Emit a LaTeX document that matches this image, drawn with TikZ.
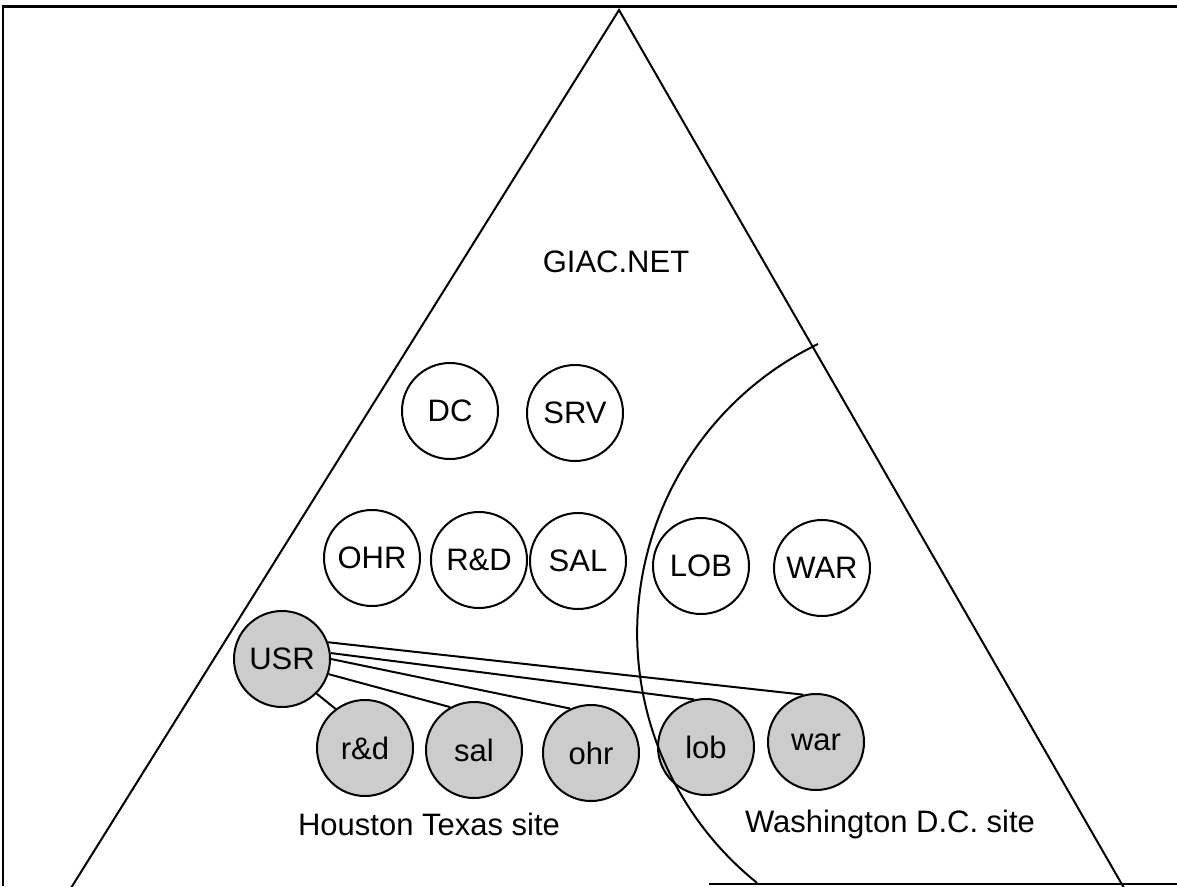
\documentclass[tikz,border=0pt]{standalone}
\usepackage{fontspec}
\setmainfont{Liberation Sans}
\definecolor{nodegrey}{RGB}{204,204,204}
\begin{document}
\begin{tikzpicture}[x=1pt,y=-1pt,
  every node/.style={font=\fontsize{31}{33}\selectfont},
  hub/.style={circle,draw,line width=2pt,minimum size=96pt,inner sep=0pt,fill=white},
  greyhub/.style={hub,fill=nodegrey},
  edge/.style={line width=2pt},
  frame/.style={line width=1.8pt}]
\useasboundingbox (0,0) rectangle (1177,886);
% frame
\draw[line width=3pt] (2,6) -- (1177,6);
\draw[frame] (3,6) -- (3,886);
\draw[frame] (709,884) -- (1177,884);
% triangle
\coordinate (apex) at (619,10);
\coordinate (bl) at (71,888);
\coordinate (br) at (1124,888);
\draw[edge] (bl) -- (apex) -- (br);
% labels
\node (giac) at (616,262) {GIAC.NET};
\node (houston) at (429,824) {Houston Texas site};
\node (wash) at (890,824) {Washington D.C. site};
% white nodes
\node[hub] (dc) at (450,411) {DC};
\node[hub] (srv) at (575,413) {SRV};
\node[hub] (OHR) at (372,558) {OHR};
\node[hub] (RD) at (479,560) {R\&D};
\node[hub] (SAL) at (578,561) {SAL};
\node[hub] (LOB) at (701,566) {LOB};
\node[hub] (WAR) at (822,568) {WAR};
% grey nodes
\node[greyhub] (usr) at (282,659) {USR};
\node[greyhub] (rd) at (365,748) {r\&d};
\node[greyhub] (sal) at (474,750) {sal};
\node[greyhub] (ohr) at (591,753) {ohr};
\node[greyhub] (lob) at (706,747) {lob};
\node[greyhub] (war) at (816,742) {war};
% connectors
\draw[edge] (usr.-45) -- (rd.127);
\draw[edge] (usr.-18) -- (sal.119);
\draw[edge] (usr.0) -- (ohr.115);
\draw[edge] (usr.7) -- (lob.104);
\draw[edge] (usr.20) -- (war.105);
% site boundary arc
\coordinate (arcTop) at (818,344);
\draw[edge] (arcTop) arc[start angle=244.1,end angle=128.8,radius=321];
\end{tikzpicture}
\end{document}
